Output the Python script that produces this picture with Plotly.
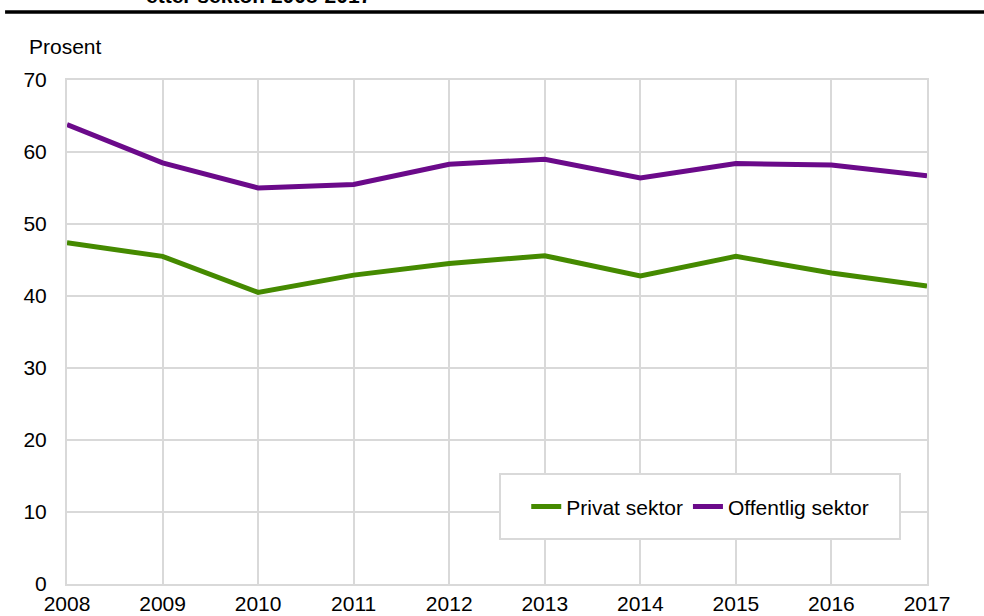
import plotly.graph_objects as go

years = [2008, 2009, 2010, 2011, 2012, 2013, 2014, 2015, 2016, 2017]
privat = [47.4, 45.5, 40.5, 42.9, 44.5, 45.6, 42.8, 45.5, 43.2, 41.4]
offentlig = [63.8, 58.5, 55.0, 55.5, 58.3, 59.0, 56.4, 58.4, 58.2, 56.7]
y_ticks = [0, 10, 20, 30, 40, 50, 60, 70]

FONT = "Liberation Sans, Arial, sans-serif"
GRID = "#d9d9d9"
FS = 21

fig = go.Figure()
fig.add_trace(go.Scatter(x=years, y=privat, mode="lines", name="Privat sektor",
                         line=dict(color="#458a00", width=5)))
fig.add_trace(go.Scatter(x=years, y=offentlig, mode="lines", name="Offentlig sektor",
                         line=dict(color="#6b0a8a", width=5)))

fig.update_layout(
    width=984, height=616,
    margin=dict(l=67, r=57, t=80, b=32),
    paper_bgcolor="white", plot_bgcolor="white",
    font=dict(family=FONT, size=FS, color="#000000"),
    showlegend=True,
    legend=dict(orientation="h", x=0.534, y=0.153, xanchor="left", yanchor="middle",
                bgcolor="rgba(0,0,0,0)", borderwidth=0, font=dict(size=FS),
                itemwidth=30),
    xaxis=dict(range=[2008, 2017], tickvals=years, ticktext=[str(y) for y in years],
               showgrid=True, gridcolor=GRID, gridwidth=2,
               showline=True, linecolor=GRID, linewidth=2, mirror=True,
               zeroline=False, ticks="", fixedrange=True, automargin=False),
    yaxis=dict(range=[0, 70], tickvals=y_ticks,
               showgrid=True, gridcolor=GRID, gridwidth=2,
               showline=True, linecolor=GRID, linewidth=2, mirror=True,
               zeroline=False, ticks="", ticklabelstandoff=14, fixedrange=True,
               automargin=False),
    shapes=[
        dict(type="rect", xref="paper", yref="paper", x0=0.5035, x1=0.9686,
             y0=0.0893, y1=0.2183, fillcolor="white",
             line=dict(color=GRID, width=2), layer="above"),
        dict(type="line", xref="paper", yref="paper", x0=-0.072, x1=1.07,
             y0=1.135, y1=1.135, line=dict(color="black", width=3.5)),
    ],
    annotations=[
        dict(text="Prosent", xref="paper", yref="paper", x=-0.046, y=1.067,
             xanchor="left", yanchor="middle", showarrow=False,
             font=dict(size=FS)),
        dict(text="<b>etter sektor. 2008-2017</b>", xref="paper", yref="paper",
             x=0.0895, y=1.141, xanchor="left", yanchor="bottom", showarrow=False,
             font=dict(size=21)),
    ],
)

fig.write_html("out.html", config={"displayModeBar": False},
               post_script="document.body.style.margin='0';document.body.style.padding='0';")
